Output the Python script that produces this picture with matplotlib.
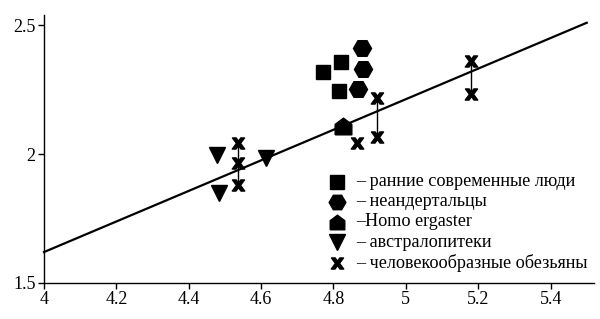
import matplotlib
matplotlib.use("Agg")
import matplotlib.pyplot as plt
import numpy as np

# Data
early_x = [4.771, 4.822, 4.816]
early_y = [2.317, 2.359, 2.245]
neand_x = [4.880, 4.882, 4.868]
neand_y = [2.413, 2.329, 2.251]
erg_x = [4.827]
erg_y = [2.108]
austr_x = [4.477, 4.484, 4.613]
austr_y = [1.998, 1.851, 1.985]
ape_x = [4.535, 4.535, 4.535, 4.864, 4.919, 4.919, 5.181, 5.181]
ape_y = [2.044, 1.966, 1.881, 2.044, 2.219, 2.067, 2.361, 2.232]
# vertical connectors between ape pairs (x, y_low, y_high)
conn_x = [4.535, 4.919, 5.181]
conn_lo = [1.881, 2.067, 2.232]
conn_hi = [2.044, 2.219, 2.361]
# regression line endpoints
line_x = [4.0, 5.5]
line_y = [1.62, 2.51]

labels = ["– ранние современные люди", "– неандертальцы", "–Homo ergaster",
          "– австралопитеки", "– человекообразные обезьяны"]

plt.rcParams['font.family'] = ['Liberation Serif', 'DejaVu Serif']

fig = plt.figure(figsize=(6.0, 3.19), dpi=100)
ax = fig.add_axes([0.0733, 0.1129, 0.9167, 0.840])

ax.plot(line_x, line_y, color='black', lw=1.6, zorder=2, clip_on=False)
ax.vlines(conn_x, conn_lo, conn_hi, color='black', lw=1.0, zorder=1)

house = [(-1, -1), (1, -1), (1, 0.25), (0, 1), (-1, 0.25), (-1, -1)]
xm = r'$\mathbf{x}$'

styles = [dict(marker='s', ms=10), dict(marker='H', ms=13),
          dict(marker=house, ms=12), dict(marker='v', ms=12),
          dict(marker=xm, ms=9)]
series = [(early_x, early_y), (neand_x, neand_y), (erg_x, erg_y),
          (austr_x, austr_y), (ape_x, ape_y)]
for (sx, sy), st in zip(series, styles):
    ax.plot(sx, sy, color='black', ls='none', zorder=3, **st)

# manual legend
leg_mx = 4.811
leg_tx = 4.8625
leg_y = [1.893, 1.815, 1.737, 1.659, 1.579]
leg_ms = [10, 12, 10.5, 11, 9]
for st, ly, lab, lms in zip(styles, leg_y, labels, leg_ms):
    s = dict(st)
    s['ms'] = lms
    ax.plot([leg_mx], [ly], color='black', ls='none', zorder=3, **s)
    ax.text(leg_tx, ly, lab, ha='left', va='center', fontsize=13.1)

ax.set_xlim(4.0, 5.52)
ax.set_ylim(1.5, 2.54)
ax.set_xticks([4, 4.2, 4.4, 4.6, 4.8, 5, 5.2, 5.4])
ax.set_xticklabels(['4', '4.2', '4.4', '4.6', '4.8', '5', '5.2', '5.4'])
ax.set_yticks([1.5, 2, 2.5])
ax.set_yticklabels(['1.5', '2', '2.5'])
ax.spines['top'].set_visible(False)
ax.spines['right'].set_visible(False)
for s in ['left', 'bottom']:
    ax.spines[s].set_linewidth(1.0)
ax.tick_params(direction='out', length=4, width=1, labelsize=13, pad=2)

fig.savefig('out.png', dpi=100)
